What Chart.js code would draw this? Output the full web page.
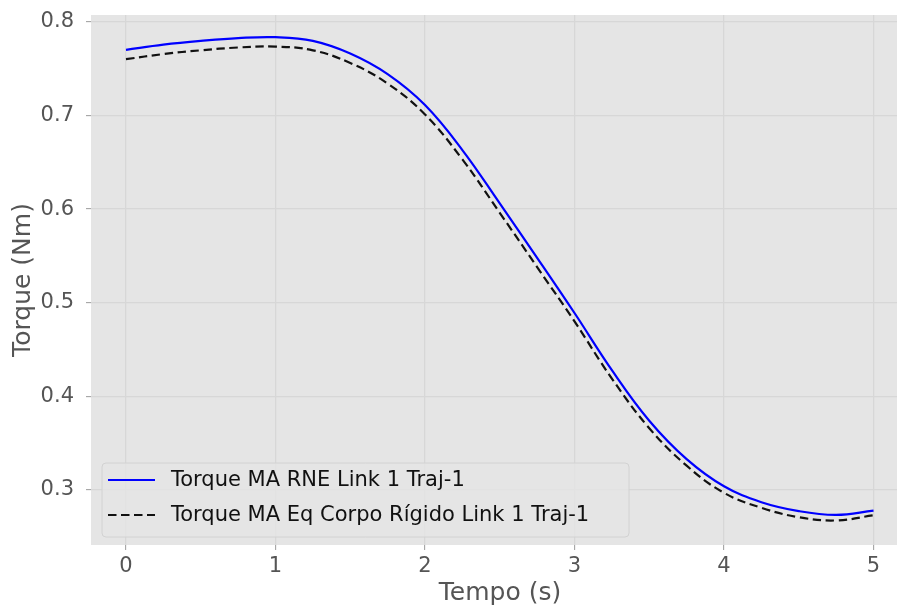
<!DOCTYPE html>
<html>
<head>
<meta charset="utf-8">
<script src="https://cdn.jsdelivr.net/npm/chart.js@4.4.1/dist/chart.umd.min.js"></script>
<style>
    html, body { margin: 0; padding: 0; background: #fff; }
    #wrap { width: 899px; height: 610px; position: relative; }
</style>
</head>
<body>
<div id="wrap"><canvas id="torqueChart"></canvas></div>
<script>
// data
const tempo = [0, 0.25, 0.5, 0.75, 1, 1.25, 1.5, 1.75, 2, 2.25, 2.5, 2.75, 3, 3.25, 3.5, 3.75, 4, 4.25, 4.5, 4.75, 5];
const torqueRNE = [0.770, 0.7755, 0.7795, 0.7825, 0.7835, 0.7795, 0.766, 0.744, 0.711, 0.663, 0.606, 0.548, 0.489, 0.428, 0.374, 0.333, 0.304, 0.287, 0.2775, 0.2735, 0.278];
const torqueRigido = [0.760, 0.7655, 0.7695, 0.7725, 0.7735, 0.7695, 0.756, 0.734, 0.701, 0.653, 0.596, 0.538, 0.480, 0.419, 0.366, 0.326, 0.297, 0.281, 0.271, 0.2675, 0.273];
const xTicks = [0, 1, 2, 3, 4, 5];
const yTicks = [0.3, 0.4, 0.5, 0.6, 0.7, 0.8];
const labels = ['Torque MA RNE Link 1 Traj-1', 'Torque MA Eq Corpo Rígido Link 1 Traj-1'];

const FONT = "'DejaVu Sans', sans-serif";
const DASH = [8.5, 4.5];

function toPoints(ys) {
    return ys.map((y, i) => ({ x: tempo[i], y: y }));
}

// grijze achtergrond, aslabels en legenda
const ggplotLook = {
    id: 'ggplotLook',
    beforeDraw(chart) {
        const { ctx, chartArea: a } = chart;
        ctx.save();
        ctx.fillStyle = '#e5e5e5';
        ctx.fillRect(a.left, a.top, a.right - a.left, a.bottom - a.top);
        ctx.restore();
    },
    afterDraw(chart) {
        const { ctx, chartArea: a } = chart;
        ctx.save();
        ctx.fillStyle = '#555555';
        ctx.font = '25px ' + FONT;
        ctx.textAlign = 'center';
        ctx.textBaseline = 'middle';
        ctx.fillText('Tempo (s)', (a.left + a.right) / 2 + 6, 593);
        ctx.translate(23, (a.top + a.bottom) / 2);
        ctx.rotate(-Math.PI / 2);
        ctx.fillText('Torque (Nm)', 0, 0);
        ctx.restore();

        // legenda
        ctx.save();
        const bx = 102, by = 463, bw = 527, bh = 74, r = 4;
        ctx.beginPath();
        ctx.roundRect(bx, by, bw, bh, r);
        ctx.fillStyle = 'rgba(229,229,229,0.8)';
        ctx.fill();
        ctx.strokeStyle = '#d2d2d2';
        ctx.lineWidth = 1;
        ctx.stroke();

        const rows = [480, 515];
        chart.data.datasets.forEach((ds, i) => {
            ctx.beginPath();
            ctx.setLineDash(ds.borderDash || []);
            ctx.strokeStyle = ds.borderColor;
            ctx.lineWidth = ds.borderWidth;
            ctx.moveTo(108, rows[i]);
            ctx.lineTo(155, rows[i]);
            ctx.stroke();
            ctx.setLineDash([]);
            ctx.fillStyle = '#111';
            ctx.font = '21px ' + FONT;
            ctx.textAlign = 'left';
            ctx.textBaseline = 'middle';
            ctx.fillText(ds.label, 171, rows[i] + 1);
        });
        ctx.restore();
    }
};

function noPad(s) {
    s.paddingTop = 0; s.paddingBottom = 0; s.paddingLeft = 0; s.paddingRight = 0;
}

new Chart(document.getElementById('torqueChart'), {
    type: 'line',
    data: {
        datasets: [
            { label: labels[0], data: toPoints(torqueRNE), borderColor: '#0000ff', borderWidth: 2.2, pointRadius: 0, tension: 0.4 },
            { label: labels[1], data: toPoints(torqueRigido), borderColor: '#111111', borderWidth: 2.2, borderDash: DASH, pointRadius: 0, tension: 0.4 }
        ]
    },
    options: {
        responsive: true,
        maintainAspectRatio: false,
        animation: false,
        layout: { padding: { top: 15, right: 2, left: 0, bottom: 0 } },
        plugins: { legend: { display: false }, tooltip: { enabled: false } },
        scales: {
            x: {
                type: 'linear', min: -0.234, max: 5.157,
                afterBuildTicks: s => { s.ticks = xTicks.map(v => ({ value: v })); },
                afterFit: s => { s.height = 65; noPad(s); },
                grid: { color: '#d7d7d7', lineWidth: 1.3, tickLength: 5, tickColor: '#9a9a9a', tickWidth: 1 },
                border: { display: false },
                ticks: { color: '#555555', font: { family: FONT, size: 21 }, padding: 4, maxRotation: 0, callback: v => String(v) }
            },
            y: {
                type: 'linear', min: 0.2413, max: 0.8072,
                afterBuildTicks: s => { s.ticks = yTicks.map(v => ({ value: v })); },
                afterFit: s => { s.width = 91; noPad(s); },
                grid: { color: '#d7d7d7', lineWidth: 1.3, tickLength: 5, tickColor: '#9a9a9a', tickWidth: 1 },
                border: { display: false },
                ticks: { color: '#555555', font: { family: FONT, size: 21 }, padding: 12, callback: v => v.toFixed(1) }
            }
        }
    },
    plugins: [ggplotLook]
});
</script>
</body>
</html>
